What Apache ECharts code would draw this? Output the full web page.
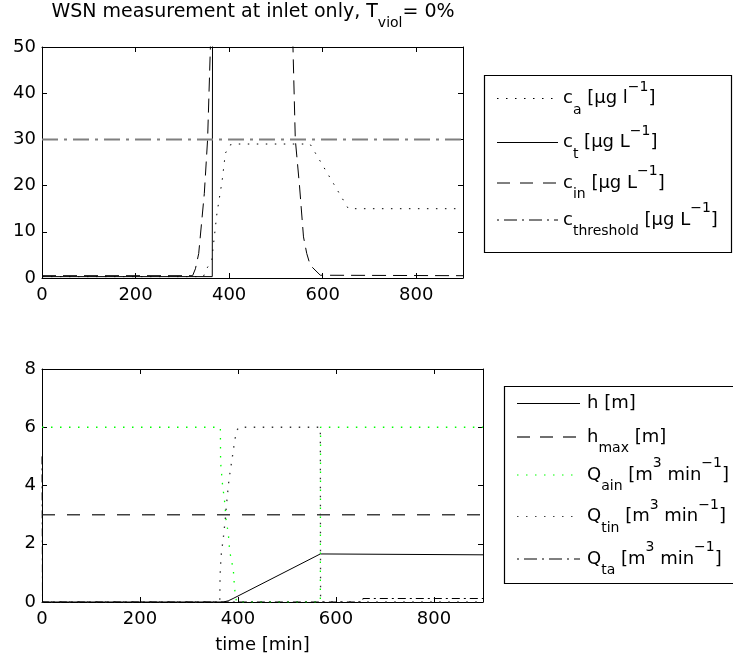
<!DOCTYPE html>
<html>
<head>
<meta charset="utf-8">
<script src="https://cdn.jsdelivr.net/npm/echarts@6/dist/echarts.min.js"></script>
<style>
html,body{margin:0;padding:0;background:#fff;}
#chart{width:733px;height:664px;}
</style>
</head>
<body>
<div id="chart"></div>
<script>
// ---------- DATA ----------
const xTicks = [0, 200, 400, 600, 800];
const topYTicks = [0, 10, 20, 30, 40, 50];
const botYTicks = [0, 2, 4, 6, 8];

// Top panel: concentrations
const caTime = [0, 345, 352, 358, 363, 374, 385, 392, 402, 412, 573, 655, 895];
const caVal  = [0.3, 0.3, 2, 3, 4, 14, 21, 27, 28.8, 29, 29, 15, 15];

const ctTime = [0, 364, 366, 900];
const ctVal  = [0.3, 0.3, 200, 200];

const cinTime = [0, 322, 328, 335, 347, 354, 360, 380, 450, 520, 536.5, 541.5, 550.7, 559, 566, 573.5, 595, 900];
const cinVal  = [0.5, 0.5, 2, 5.3, 18.3, 30, 50, 110, 150, 110, 50, 30, 19.7, 8.9, 5.3, 2.75, 0.6, 0.5];

const cthTime = [0, 900];
const cthVal  = [30, 30];

// Bottom panel: levels and flows
const hTime = [0, 370, 380, 390, 568, 900];
const hVal  = [0, 0, 0.04, 0.12, 1.65, 1.62];

const hmaxTime = [0, 900];
const hmaxVal  = [3, 3];

const qainTime = [0, 364, 364.5, 366.5, 368, 373, 376, 380, 383, 387, 390.5, 393, 397, 568, 568.5, 900];
const qainVal  = [6, 6, 4.8, 4.4, 4.1, 3.4, 2.75, 2.4, 1.75, 1.4, 1.1, 0.46, 0, 0, 6, 6];

const qtinTime = [0, 362.8, 363.4, 365.4, 370.3, 374.4, 377.7, 381.7, 387.8, 393.5, 398, 402, 568, 568.5, 900];
const qtinVal  = [0, 0, 0.9, 1.57, 2.24, 2.9, 3.56, 4.22, 4.9, 5.57, 5.9, 6, 6, 0, 0];

const qtaTime = [0, 1, 654, 655, 900];
const qtaVal  = [5, 0, 0, 0.12, 0.12];

// ---------- helpers ----------
function zip(t, v) { return t.map((x, i) => [x, v[i]]); }
const FONT = 'DejaVu Sans';
const DOT = [1.5, 7.5];

function xAx(grid, pos, withLabels, extra) {
  return Object.assign({
    type: 'value', gridIndex: grid, position: pos, min: 0, max: 900, interval: 200,
    axisLine: { show: true, onZero: false, lineStyle: { color: '#000', width: 1 } },
    axisTick: { show: true, inside: true, length: 5, lineStyle: { color: '#000' } },
    axisLabel: { show: withLabels, margin: 8, color: '#000', fontSize: 18, fontFamily: FONT, showMaxLabel: false },
    splitLine: { show: false }
  }, extra || {});
}
function yAx(grid, pos, max, interval, withLabels) {
  return {
    type: 'value', gridIndex: grid, position: pos, min: 0, max: max, interval: interval,
    axisLine: { show: true, onZero: false, lineStyle: { color: '#000', width: 1 } },
    axisTick: { show: true, inside: true, length: 5, lineStyle: { color: '#000' } },
    axisLabel: { show: withLabels, margin: 6, color: '#000', fontSize: 18, fontFamily: FONT },
    splitLine: { show: false }
  };
}
function ln(name, xi, yi, data, color, width, type) {
  return {
    name: name, type: 'line', xAxisIndex: xi, yAxisIndex: yi, data: data,
    showSymbol: false, symbol: 'none', clip: true, animation: false, silent: true,
    lineStyle: { color: color, width: width, type: type }
  };
}

const rich = {
  m: { fontSize: 18, fontFamily: FONT, color: '#000', lineHeight: 37 },
  s: { fontSize: 14, fontFamily: FONT, color: '#000', lineHeight: 14, verticalAlign: 'bottom' },
  p: { fontSize: 14, fontFamily: FONT, color: '#000', lineHeight: 20, verticalAlign: 'top' }
};
const richTitle = {
  m: { fontSize: 19, fontFamily: FONT, color: '#000', lineHeight: 37 },
  s: { fontSize: 14, fontFamily: FONT, color: '#000', lineHeight: 14, verticalAlign: 'bottom' }
};

function legendItem(x1, x2, tx, y, color, width, dash, text) {
  return [
    { type: 'line', shape: { x1: x1, y1: y, x2: x2, y2: y }, style: { stroke: color, lineWidth: width, lineDash: dash }, z: 10 },
    { type: 'text', x: tx, y: y, style: { text: text, rich: rich, verticalAlign: 'middle', align: 'left' }, z: 10 }
  ];
}

const topLegend = [
  { type: 'rect', shape: { x: 484.5, y: 75.5, width: 247, height: 177 }, style: { fill: '#fff', stroke: '#000', lineWidth: 1.2 }, z: 9 },
  ...legendItem(497, 558, 563, 98.5, '#000', 1, DOT, '{m|c}{s|a}{m| [μg l}{p|−1}{m|]}'),
  ...legendItem(497, 558, 563, 142.5, '#000', 1, null, '{m|c}{s|t}{m| [μg L}{p|−1}{m|]}'),
  ...legendItem(497, 558, 563, 183, '#000', 1, [13, 10], '{m|c}{s|in}{m| [μg L}{p|−1}{m|]}'),
  ...legendItem(497, 558, 563, 220, '#000', 1, [2, 5, 13, 5], '{m|c}{s|threshold}{m| [μg L}{p|−1}{m|]}')
];
const botLegend = [
  { type: 'rect', shape: { x: 504.5, y: 386.5, width: 240, height: 197 }, style: { fill: '#fff', stroke: '#000', lineWidth: 1.2 }, z: 9 },
  ...legendItem(517, 580, 587, 403.5, '#000', 1, null, '{m|h [m]}'),
  ...legendItem(517, 580, 587, 437, '#404040', 1.5, [13, 10], '{m|h}{s|max}{m| [m]}'),
  ...legendItem(517, 580, 587, 475, '#00ff00', 1.2, DOT, '{m|Q}{s|ain}{m| [m}{p|3}{m| min}{p|−1}{m|]}'),
  ...legendItem(517, 580, 587, 516.5, '#444', 1.2, DOT, '{m|Q}{s|tin}{m| [m}{p|3}{m| min}{p|−1}{m|]}'),
  ...legendItem(517, 580, 587, 559, '#000', 1, [2, 5, 13, 5], '{m|Q}{s|ta}{m| [m}{p|3}{m| min}{p|−1}{m|]}')
];

const option = {
  backgroundColor: '#fff',
  animation: false,
  grid: [
    { left: 42, top: 47, width: 421, height: 231, show: false },
    { left: 42, top: 369, width: 441, height: 233, show: false }
  ],
  xAxis: [
    xAx(0, 'bottom', true),
    xAx(0, 'top', false),
    xAx(1, 'bottom', true, { name: 'time [min]', nameLocation: 'middle', nameGap: 34,
      nameTextStyle: { color: '#000', fontSize: 18, fontFamily: FONT, verticalAlign: 'top' } }),
    xAx(1, 'top', false)
  ],
  yAxis: [
    yAx(0, 'left', 50, 10, true),
    yAx(0, 'right', 50, 10, false),
    yAx(1, 'left', 8, 2, true),
    yAx(1, 'right', 8, 2, false)
  ],
  series: [
    ln('c_a', 0, 0, zip(caTime, caVal), '#000', 1, DOT),
    ln('c_t', 0, 0, zip(ctTime, ctVal), '#000', 1, 'solid'),
    ln('c_in', 0, 0, zip(cinTime, cinVal), '#000', 1, [14, 7]),
    ln('c_threshold', 0, 0, zip(cthTime, cthVal), '#7f7f7f', 2, [16, 6, 3, 6]),
    ln('h', 2, 2, zip(hTime, hVal), '#000', 1, 'solid'),
    ln('h_max', 2, 2, zip(hmaxTime, hmaxVal), '#404040', 1.5, [13, 12]),
    ln('Q_ain', 2, 2, zip(qainTime, qainVal), '#00ff00', 1.3, DOT),
    ln('Q_tin', 2, 2, zip(qtinTime, qtinVal), '#333', 1.3, DOT),
    ln('Q_ta', 2, 2, zip(qtaTime, qtaVal), '#000', 1, [8, 4, 2, 4])
  ],
  graphic: [
    { type: 'text', x: 253, y: 12, style: { text: '{m|WSN measurement at inlet only, T}{s|viol}{m|= 0%}', rich: richTitle, align: 'center', verticalAlign: 'middle' }, z: 10 },
    ...topLegend,
    ...botLegend
  ]
};

const chart = echarts.init(document.getElementById('chart'), null, { renderer: 'canvas' });
chart.setOption(option);
</script>
</body>
</html>
